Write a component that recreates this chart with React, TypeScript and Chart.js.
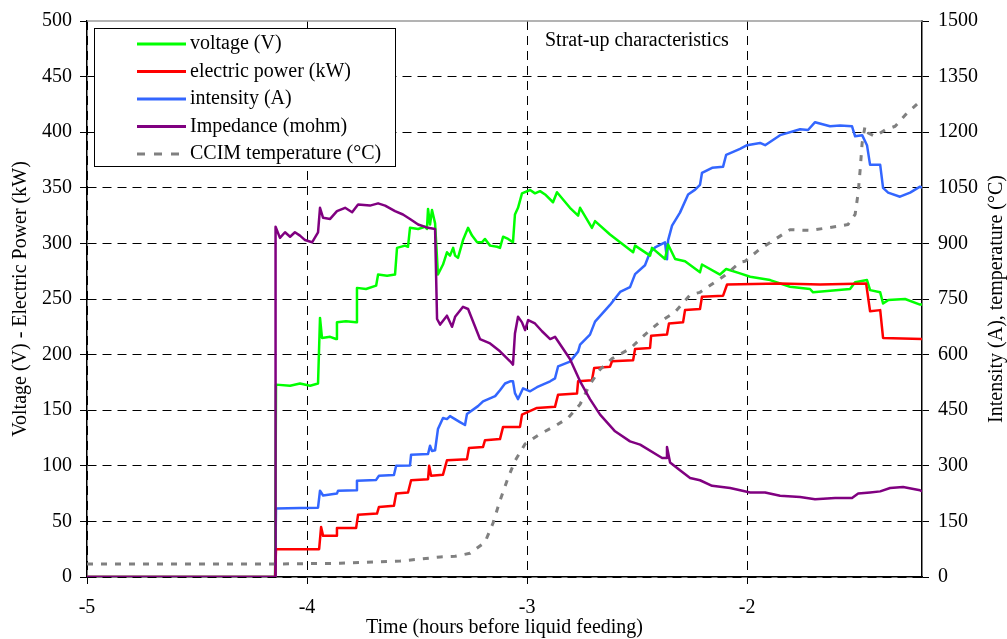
import React, { useEffect, useRef } from 'react';
import { Chart, registerables } from 'chart.js';

Chart.register(...registerables);

const FONT = "'Liberation Serif', 'Times New Roman', Times, serif";
Chart.defaults.font.family = FONT;

// Time axis: hours before liquid feeding
const xTicks = [-5, -4, -3, -2];
const leftTicksMax = 500;
const rightTicksMax = 1500;

const seriesLabels = [
  'voltage (V)',
  'electric power (kW)',
  'intensity (A)',
  'Impedance (mohm)',
  'CCIM temperature (°C)',
];

const voltageTime = [
  -5, -4.145, -4.141, -4.077, -4.032, -3.986, -3.95, -3.941, -3.932, -3.895, -3.868, -3.864,
  -3.823, -3.777, -3.773, -3.732, -3.686, -3.677, -3.636, -3.6, -3.591, -3.555, -3.541, -3.532,
  -3.495, -3.464, -3.455, -3.45, -3.441, -3.432, -3.418, -3.405, -3.382, -3.364, -3.35, -3.336,
  -3.327, -3.314, -3.291, -3.268, -3.25, -3.227, -3.205, -3.191, -3.168, -3.136, -3.123, -3.109,
  -3.086, -3.064, -3.055, -3.041, -3.023, -2.986, -2.964, -2.941, -2.918, -2.882, -2.864, -2.805,
  -2.768, -2.759, -2.705, -2.691, -2.623, -2.518, -2.509, -2.441, -2.432, -2.373, -2.359, -2.327,
  -2.282, -2.214, -2.205, -2.123, -2.095, -2.032, -1.986, -1.895, -1.805, -1.714, -1.7, -1.532,
  -1.509, -1.455, -1.441, -1.395, -1.382, -1.359, -1.282, -1.214, -1.205,
];
const voltageValues = [
  0, 0, 173, 172, 174, 172, 174, 233, 215, 216, 214, 229,
  230, 229, 260, 259, 262, 272, 271, 272, 296, 298, 297, 314,
  313, 315, 313, 331, 317, 330, 318, 272, 281, 292, 289, 296,
  289, 287, 303, 314, 307, 301, 301, 304, 298, 297, 296, 306,
  304, 301, 326, 332, 345, 348, 345, 347, 344, 337, 346, 332,
  325, 332, 314, 320, 308, 292, 298, 289, 296, 286, 299, 286,
  284, 274, 281, 272, 277, 273, 270, 267, 261, 259, 256, 259,
  265, 267, 258, 256, 246, 249, 250, 245, 245,
];

const powerTime = [
  -5, -4.145, -4.141, -4.032, -3.945, -3.936, -3.927, -3.868, -3.864, -3.777, -3.768, -3.682,
  -3.673, -3.605, -3.595, -3.541, -3.527, -3.45, -3.445, -3.436, -3.382, -3.364, -3.273, -3.264,
  -3.2, -3.191, -3.123, -3.109, -3.032, -3.023, -2.955, -2.873, -2.859, -2.773, -2.768, -2.705,
  -2.695, -2.623, -2.614, -2.518, -2.509, -2.441, -2.436, -2.364, -2.355, -2.291, -2.282, -2.214,
  -2.205, -2.109, -2.091, -1.85, -1.668, -1.459, -1.441, -1.395, -1.382, -1.205,
];
const powerValues = [
  0, 0, 25, 25, 25, 45, 37, 37, 44, 44, 56, 57,
  63, 64, 75, 76, 87, 88, 100, 91, 92, 105, 106, 116,
  117, 123, 124, 135, 135, 146, 152, 153, 164, 165, 176, 177,
  188, 189, 194, 195, 205, 206, 217, 218, 228, 229, 240, 241,
  252, 253, 263, 264, 263, 264, 239, 240, 215, 214,
];

const intensityTime = [
  -5, -4.145, -4.141, -4.032, -3.95, -3.941, -3.927, -3.864, -3.859, -3.777, -3.773, -3.686,
  -3.673, -3.605, -3.595, -3.532, -3.527, -3.45, -3.441, -3.432, -3.418, -3.405, -3.382, -3.364,
  -3.35, -3.305, -3.282, -3.273, -3.223, -3.2, -3.145, -3.123, -3.1, -3.077, -3.064, -3.055,
  -3.041, -3.018, -2.986, -2.955, -2.895, -2.873, -2.859, -2.805, -2.768, -2.759, -2.714, -2.691,
  -2.623, -2.577, -2.532, -2.509, -2.464, -2.441, -2.418, -2.373, -2.364, -2.359, -2.341, -2.305,
  -2.268, -2.236, -2.214, -2.205, -2.159, -2.109, -2.095, -2.032, -2.0, -1.941, -1.918, -1.85,
  -1.759, -1.723, -1.691, -1.623, -1.577, -1.523, -1.509, -1.477, -1.455, -1.441, -1.395, -1.382,
  -1.359, -1.305, -1.259, -1.214, -1.205,
];
const intensityValues = [
  0, 0, 185, 186, 187, 233, 220, 225, 233, 234, 260, 262,
  273, 275, 300, 301, 330, 332, 354, 340, 342, 399, 429, 426,
  434, 418, 410, 440, 461, 474, 488, 504, 522, 528, 528, 496,
  480, 509, 501, 512, 528, 536, 568, 581, 608, 627, 654, 689,
  734, 769, 782, 817, 841, 876, 889, 903, 857, 908, 948, 983,
  1032, 1045, 1058, 1090, 1104, 1107, 1139, 1155, 1165, 1171, 1165, 1192,
  1208, 1206, 1227, 1216, 1218, 1216, 1189, 1192, 1165, 1112, 1112, 1050,
  1037, 1026, 1037, 1053, 1050,
];

const impedanceTime = [
  -5, -4.145, -4.143, -4.123, -4.1, -4.077, -4.055, -4.032, -4.009, -3.977, -3.95, -3.941,
  -3.927, -3.895, -3.864, -3.827, -3.795, -3.768, -3.714, -3.677, -3.645, -3.6, -3.564, -3.532,
  -3.495, -3.45, -3.418, -3.409, -3.395, -3.364, -3.341, -3.327, -3.291, -3.268, -3.214, -3.168,
  -3.123, -3.077, -3.064, -3.055, -3.041, -3.023, -3.009, -2.995, -2.964, -2.932, -2.895, -2.873,
  -2.805, -2.759, -2.714, -2.668, -2.6, -2.532, -2.486, -2.386, -2.368, -2.364, -2.35, -2.305,
  -2.259, -2.214, -2.159, -2.077, -1.986, -1.918, -1.85, -1.759, -1.691, -1.6, -1.523, -1.495,
  -1.441, -1.395, -1.35, -1.291, -1.214, -1.205,
];
const impedanceValues = [
  0, 0, 315, 305, 310, 306, 310, 307, 303, 301, 310, 332,
  323, 322, 329, 332, 328, 335, 334, 336, 334, 329, 326, 322,
  317, 314, 313, 232, 227, 235, 225, 234, 243, 241, 214, 210,
  203, 194, 191, 219, 234, 229, 222, 231, 228, 221, 214, 216,
  196, 176, 160, 146, 131, 122, 119, 107, 107, 117, 103, 96,
  89, 87, 82, 80, 76, 76, 73, 72, 70, 71, 71, 75,
  76, 77, 80, 81, 78, 77,
];

const temperatureTime = [
  -5, -4.145, -3.85, -3.577, -3.395, -3.327, -3.259, -3.191, -3.155, -3.123, -3.086, -3.055,
  -3.009, -2.941, -2.873, -2.814, -2.759, -2.714, -2.668, -2.614, -2.532, -2.464, -2.395, -2.327,
  -2.259, -2.214, -2.145, -2.1, -2.032, -2.009, -1.941, -1.873, -1.805, -1.714, -1.623, -1.541,
  -1.509, -1.495, -1.486, -1.477, -1.464, -1.45, -1.418, -1.373, -1.327, -1.282, -1.214,
];
const temperatureValues = [
  35, 35, 37, 43, 54, 56, 64, 94, 145, 206, 268, 313,
  359, 386, 407, 429, 466, 520, 560, 589, 616, 654, 689, 715,
  761, 768, 796, 814, 849, 852, 885, 911, 937, 935, 943, 951,
  978, 1037, 1099, 1171, 1216, 1198, 1189, 1206, 1216, 1246, 1283,
];

const colors = ['#00ff00', '#ff0000', '#3366ff', '#800080', '#808080'];
const annotationText = 'Strat-up characteristics';
const xTitle = 'Time (hours before liquid feeding)';
const leftTitle = 'Voltage (V) - Electric Power (kW)';
const rightTitle = 'Intensity (A), temperature (°C)';

const pts = (t: number[], v: number[]) => t.map((x, i) => ({ x, y: v[i] }));

export default function App() {
  const ref = useRef<HTMLCanvasElement>(null);

  useEffect(() => {
    document.body.style.margin = '0';
    const overlay = {
      id: 'overlay',
      afterDraw(chart: any) {
        const ctx = chart.ctx as CanvasRenderingContext2D;
        const area = chart.chartArea;
        ctx.save();
        // top frame line
        ctx.strokeStyle = '#9a9a9a';
        ctx.lineWidth = 1.5;
        ctx.beginPath();
        ctx.moveTo(area.left, area.top);
        ctx.lineTo(area.right, area.top);
        ctx.stroke();

        ctx.fillStyle = '#000';
        ctx.textBaseline = 'middle';
        ctx.font = `20px ${FONT}`;
        ctx.textAlign = 'left';
        ctx.fillText(annotationText, 545, 41);

        ctx.textAlign = 'center';
        ctx.fillText(xTitle, (area.left + area.right) / 2, 628);
        const midY = (area.top + area.bottom) / 2;
        ctx.save();
        ctx.translate(21, midY);
        ctx.rotate(-Math.PI / 2);
        ctx.fillText(leftTitle, 0, 0);
        ctx.restore();
        ctx.save();
        ctx.translate(997, midY);
        ctx.rotate(-Math.PI / 2);
        ctx.fillText(rightTitle, 0, 0);
        ctx.restore();

        // legend box
        const bx = area.left + 7.5;
        const by = area.top + 7.5;
        const bw = 301;
        const bh = 138;
        ctx.fillStyle = '#fff';
        ctx.fillRect(bx, by, bw, bh);
        ctx.strokeStyle = '#000';
        ctx.lineWidth = 1;
        ctx.strokeRect(bx, by, bw, bh);
        const ds = chart.data.datasets;
        ds.forEach((d: any, i: number) => {
          const y = by + 15.5 + i * 27.5;
          ctx.save();
          ctx.strokeStyle = d.borderColor;
          ctx.lineWidth = 3;
          ctx.setLineDash(d.borderDash ? [8, 9] : []);
          ctx.beginPath();
          ctx.moveTo(bx + 42.5, y);
          ctx.lineTo(bx + 91.5, y);
          ctx.stroke();
          ctx.restore();
          ctx.fillStyle = '#000';
          ctx.textAlign = 'left';
          ctx.textBaseline = 'middle';
          ctx.font = `20px ${FONT}`;
          ctx.fillText(d.label, bx + 95.5, y);
        });
        ctx.restore();
      },
    };

    const intTicks = (scale: any) => {
      scale.ticks = scale.ticks.filter((t: any) => Math.abs(t.value - Math.round(t.value)) < 1e-9 && xTicks.includes(Math.round(t.value)));
    };
    const plain = (v: any) => String(v);

    const chart = new Chart(ref.current!, {
      type: 'line',
      data: {
        datasets: [
          { label: seriesLabels[0], data: pts(voltageTime, voltageValues), borderColor: colors[0], yAxisID: 'y', order: 3 },
          { label: seriesLabels[1], data: pts(powerTime, powerValues), borderColor: colors[1], yAxisID: 'y', order: 2 },
          { label: seriesLabels[2], data: pts(intensityTime, intensityValues), borderColor: colors[2], yAxisID: 'y1', order: 4 },
          { label: seriesLabels[3], data: pts(impedanceTime, impedanceValues), borderColor: colors[3], yAxisID: 'y', order: 0 },
          { label: seriesLabels[4], data: pts(temperatureTime, temperatureValues), borderColor: colors[4], yAxisID: 'y1', order: 1, borderDash: [6, 8], borderWidth: 3 },
        ] as any,
      },
      options: {
        responsive: false,
        animation: false,
        layout: { padding: { top: 17, left: 0, right: 0, bottom: 0 } },
        elements: {
          point: { radius: 0, hoverRadius: 0 },
          line: { borderWidth: 2.5, tension: 0, fill: false, borderJoinStyle: 'round' },
        },
        plugins: { legend: { display: false }, tooltip: { enabled: false }, title: { display: false } },
        scales: {
          x: {
            type: 'linear',
            position: 'bottom',
            min: -5,
            max: -1.205,
            afterBuildTicks: intTicks,
            afterFit: (s: any) => { s.height = 62; },
            ticks: { stepSize: 1, color: '#000', font: { family: FONT, size: 20 }, padding: 12, maxRotation: 0, callback: plain },
            grid: { color: '#000', lineWidth: 1, tickLength: 7, tickColor: '#000', tickWidth: 1 },
            border: { display: true, color: '#000', width: 1.5, dash: [9, 6] },
          },
          y: {
            type: 'linear',
            position: 'left',
            min: 0,
            max: leftTicksMax,
            afterFit: (s: any) => { s.width = 87; },
            ticks: { stepSize: 50, color: '#000', font: { family: FONT, size: 20 }, padding: 8, callback: plain },
            grid: {
              color: (c: any) => (c.tick && c.tick.value === leftTicksMax ? 'rgba(0,0,0,0)' : '#000'),
              lineWidth: 1, tickLength: 7, tickColor: '#000', tickWidth: 1,
            },
            border: { display: true, color: '#000', width: 1.5, dash: [9, 6] },
          },
          y1: {
            type: 'linear',
            position: 'right',
            min: 0,
            max: rightTicksMax,
            afterFit: (s: any) => { s.width = 85; },
            ticks: { stepSize: 150, color: '#000', font: { family: FONT, size: 20 }, padding: 9, callback: plain },
            grid: { drawOnChartArea: false, color: '#000', tickLength: 7, tickColor: '#000', tickWidth: 1 },
            border: { display: true, color: '#000', width: 1.5 },
          },
        },
      } as any,
      plugins: [overlay],
    });
    return () => chart.destroy();
  }, []);

  return (
    <div style={{ width: 1007, height: 639 }}>
      <canvas ref={ref} width={1007} height={639} style={{ display: 'block' }} />
    </div>
  );
}
